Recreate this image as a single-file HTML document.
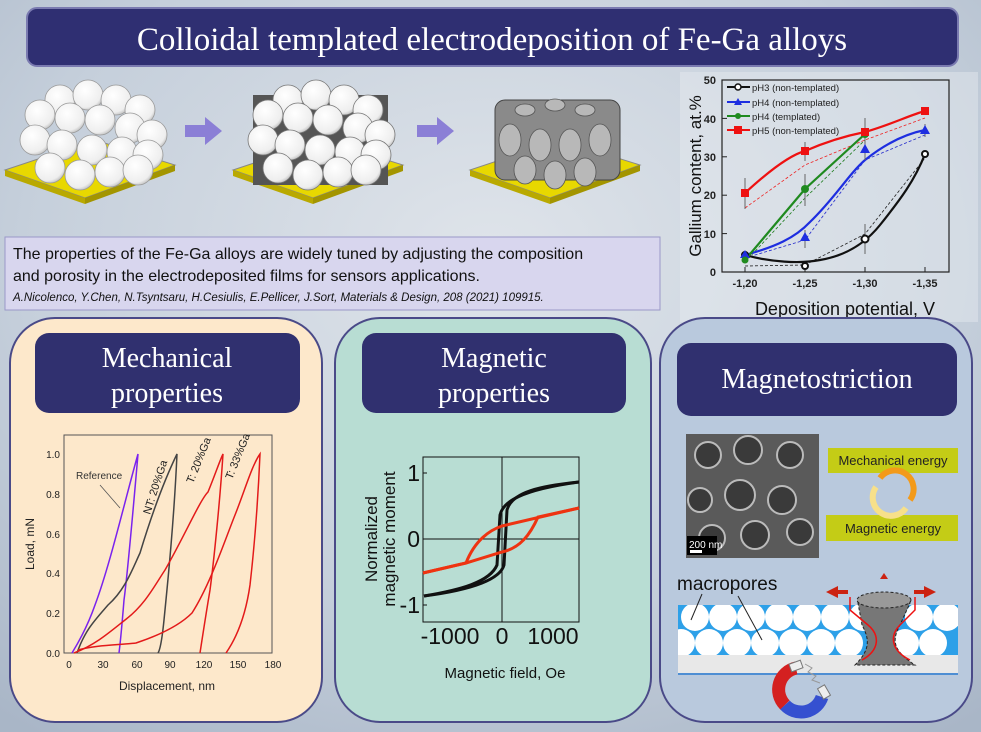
<!DOCTYPE html>
<html><head><meta charset="utf-8"><style>
html,body{margin:0;padding:0;}
body{width:981px;height:732px;overflow:hidden;background:#bfcad8;}
svg{display:block;font-family:"Liberation Sans",sans-serif;}
</style></head><body>
<svg width="981" height="732" viewBox="0 0 981 732" xmlns="http://www.w3.org/2000/svg">
<defs>
<radialGradient id="bg" cx="0.5" cy="0.35" r="0.8">
<stop offset="0" stop-color="#dfe4ea"/><stop offset="0.6" stop-color="#c5cfdb"/><stop offset="1" stop-color="#a9b6c7"/>
</radialGradient>
<radialGradient id="sph" cx="0.4" cy="0.35" r="0.7">
<stop offset="0" stop-color="#ffffff"/><stop offset="0.8" stop-color="#eeeeee"/><stop offset="1" stop-color="#bbbbbb"/>
</radialGradient>
<clipPath id="layer"><rect x="678" y="605" width="280" height="50"/></clipPath>
</defs>
<rect width="981" height="732" fill="url(#bg)"/>

<!-- title -->
<rect x="27" y="8" width="931" height="58" rx="10" fill="#2f2f72" stroke="#7a7ab0" stroke-width="2"/>
<text x="492" y="50" text-anchor="middle" fill="#fff" font-family="Liberation Serif,serif" font-size="33">Colloidal templated electrodeposition of Fe-Ga alloys</text>

<!-- sphere stacks -->
<g>
<polygon points="5,170 95,140 175,165 85,198" fill="#e8d800" stroke="#888" />
<polygon points="5,170 85,198 85,204 5,176" fill="#b9a900"/>
<polygon points="85,198 175,165 175,171 85,204" fill="#a39500"/>
<g fill="url(#sph)" stroke="#999" stroke-width="0.8">
<circle cx="60" cy="100" r="15"/><circle cx="88" cy="95" r="15"/><circle cx="116" cy="100" r="15"/><circle cx="140" cy="110" r="15"/>
<circle cx="40" cy="115" r="15"/><circle cx="70" cy="118" r="15"/><circle cx="100" cy="120" r="15"/><circle cx="130" cy="128" r="15"/><circle cx="152" cy="135" r="15"/>
<circle cx="35" cy="140" r="15"/><circle cx="62" cy="145" r="15"/><circle cx="92" cy="150" r="15"/><circle cx="122" cy="152" r="15"/><circle cx="148" cy="155" r="15"/>
<circle cx="50" cy="168" r="15"/><circle cx="80" cy="175" r="15"/><circle cx="110" cy="172" r="15"/><circle cx="138" cy="170" r="15"/>
</g>
</g>
<polygon points="185,125 205,125 205,117 222,131 205,145 205,137 185,137" fill="#8b7fd6"/>
<g transform="translate(228,0)">
<polygon points="5,170 95,140 175,165 85,198" fill="#e8d800" stroke="#888"/>
<polygon points="5,170 85,198 85,204 5,176" fill="#b9a900"/>
<polygon points="85,198 175,165 175,171 85,204" fill="#a39500"/>
<rect x="25" y="95" width="135" height="90" fill="#555" />
<g fill="url(#sph)" stroke="#777" stroke-width="0.8">
<circle cx="60" cy="100" r="15"/><circle cx="88" cy="95" r="15"/><circle cx="116" cy="100" r="15"/><circle cx="140" cy="110" r="15"/>
<circle cx="40" cy="115" r="15"/><circle cx="70" cy="118" r="15"/><circle cx="100" cy="120" r="15"/><circle cx="130" cy="128" r="15"/><circle cx="152" cy="135" r="15"/>
<circle cx="35" cy="140" r="15"/><circle cx="62" cy="145" r="15"/><circle cx="92" cy="150" r="15"/><circle cx="122" cy="152" r="15"/><circle cx="148" cy="155" r="15"/>
<circle cx="50" cy="168" r="15"/><circle cx="80" cy="175" r="15"/><circle cx="110" cy="172" r="15"/><circle cx="138" cy="170" r="15"/>
</g>
</g>
<polygon points="417,125 437,125 437,117 454,131 437,145 437,137 417,137" fill="#8b7fd6"/>
<g transform="translate(465,0)">
<polygon points="5,170 95,140 175,165 85,198" fill="#e8d800" stroke="#888"/>
<polygon points="5,170 85,198 85,204 5,176" fill="#b9a900"/>
<polygon points="85,198 175,165 175,171 85,204" fill="#a39500"/>
<g fill="#8a8a8a" stroke="#444" stroke-width="1">
<rect x="30" y="100" width="125" height="80" rx="10"/>
</g>
<g fill="#b8b8b8" stroke="#555" stroke-width="0.8">
<ellipse cx="60" cy="110" rx="10" ry="6"/><ellipse cx="90" cy="105" rx="10" ry="6"/><ellipse cx="120" cy="110" rx="10" ry="6"/>
<ellipse cx="45" cy="140" rx="11" ry="16"/><ellipse cx="75" cy="145" rx="11" ry="16"/><ellipse cx="105" cy="145" rx="11" ry="16"/><ellipse cx="135" cy="140" rx="11" ry="16"/>
<ellipse cx="60" cy="170" rx="11" ry="14"/><ellipse cx="90" cy="175" rx="11" ry="14"/><ellipse cx="120" cy="172" rx="11" ry="14"/>
</g>
</g>

<!-- Top right chart -->
<rect x="680" y="72" width="298" height="250" fill="#e6eaf0" opacity="0.45"/>
<rect x="722" y="80" width="227" height="192" fill="none" stroke="#222" stroke-width="1.2"/>
<g font-size="11" font-weight="bold" fill="#222" text-anchor="end">
<text x="716" y="276">0</text><text x="716" y="238">10</text><text x="716" y="199">20</text><text x="716" y="161">30</text><text x="716" y="123">40</text><text x="716" y="84">50</text>
</g>
<g stroke="#222"><line x1="722" y1="233.6" x2="727" y2="233.6"/><line x1="722" y1="195.2" x2="727" y2="195.2"/><line x1="722" y1="156.8" x2="727" y2="156.8"/><line x1="722" y1="118.4" x2="727" y2="118.4"/>
<line x1="745" y1="272" x2="745" y2="267"/><line x1="805" y1="272" x2="805" y2="267"/><line x1="865" y1="272" x2="865" y2="267"/><line x1="925" y1="272" x2="925" y2="267"/></g>
<g font-size="11" font-weight="bold" fill="#222" text-anchor="middle">
<text x="745" y="287">-1,20</text><text x="805" y="287">-1,25</text><text x="865" y="287">-1,30</text><text x="925" y="287">-1,35</text>
</g>
<text x="845" y="315" text-anchor="middle" font-size="18" fill="#111">Deposition potential, V</text>
<text transform="translate(701,176) rotate(-90)" text-anchor="middle" font-size="17" fill="#111">Gallium content, at.%</text>
<g fill="none" stroke-width="0.8" stroke-dasharray="3,2">
<path d="M745,266 L805,265 L865,234 L925,158" stroke="#222"/>
<path d="M745,258 L805,240 L865,160 L925,135" stroke="#2228cc"/>
<path d="M745,262 L805,198 L865,140" stroke="#1a7a1a"/>
<path d="M745,208 L805,165 L865,140 L925,118" stroke="#e22"/>
</g>
<g fill="none" stroke-width="2.2">
<path d="M745,255 C770,262 800,264 820,260 C850,255 868,240 880,225 C900,200 915,180 925,154" stroke="#111"/>
<path d="M745,255 C775,247 795,238 810,222 C835,198 848,175 865,160 C890,140 910,133 925,130" stroke="#1e2ee0"/>
<path d="M745,260 L805,189 L865,134" stroke="#1f8a1f"/>
<path d="M745,193 C770,170 790,155 805,151 C830,140 850,135 865,132 C890,125 910,115 925,111" stroke="#ee1111"/>
</g>
<g stroke-width="1">
<path d="M805,174 V206 M865,118 V150 M745,178 V209 M805,142 V161 M925,124 V137 M805,230 V248 M865,224 V254 M865,140 V160" stroke="#666"/>
</g>
<circle cx="745" cy="255" r="3" fill="#fff" stroke="#111" stroke-width="2"/><circle cx="805" cy="266" r="3" fill="#fff" stroke="#111" stroke-width="2"/><circle cx="865" cy="239" r="3.5" fill="#fff" stroke="#111" stroke-width="2"/><circle cx="925" cy="154" r="3" fill="#fff" stroke="#111" stroke-width="2"/>
<g fill="#1e2ee0"><polygon points="745,250 750,258 740,258"/><polygon points="805,232 810,241 800,241"/><polygon points="865,144 870,153 860,153"/><polygon points="925,125 930,134 920,134"/></g>
<g fill="#1f8a1f"><circle cx="745" cy="260" r="3.5"/><circle cx="805" cy="189" r="4"/><circle cx="865" cy="134" r="4"/></g>
<g fill="#ee1111"><rect x="741" y="189" width="8" height="8"/><rect x="801" y="147" width="8" height="8"/><rect x="861" y="128" width="8" height="8"/><rect x="921" y="107" width="8" height="8"/></g>
<g font-size="9.5" fill="#222">
<line x1="727" y1="87" x2="750" y2="87" stroke="#111" stroke-width="2"/><circle cx="738" cy="87" r="3" fill="#fff" stroke="#111" stroke-width="1.5"/><text x="752" y="91">pH3 (non-templated)</text>
<line x1="727" y1="102" x2="750" y2="102" stroke="#1e2ee0" stroke-width="2"/><polygon points="738,98 742,105 734,105" fill="#1e2ee0"/><text x="752" y="106">pH4 (non-templated)</text>
<line x1="727" y1="116" x2="750" y2="116" stroke="#1f8a1f" stroke-width="2"/><circle cx="738" cy="116" r="3" fill="#1f8a1f"/><text x="752" y="120">pH4 (templated)</text>
<line x1="727" y1="130" x2="750" y2="130" stroke="#ee1111" stroke-width="2"/><rect x="734" y="126" width="8" height="8" fill="#ee1111"/><text x="752" y="134">pH5 (non-templated)</text>
</g>

<!-- text box -->
<rect x="5" y="237" width="655" height="73" fill="#d8d6ee" stroke="#9a98c8"/>
<text x="13" y="259" font-size="16" fill="#111">The properties of the Fe-Ga alloys are widely tuned by adjusting the composition</text>
<text x="13" y="281" font-size="16" fill="#111">and porosity in the electrodeposited films for sensors applications.</text>
<text x="13" y="301" font-size="11.5" font-style="italic" fill="#111">A.Nicolenco, Y.Chen, N.Tsyntsaru, H.Cesiulis, E.Pellicer, J.Sort,  Materials &amp; Design, 208 (2021) 109915.</text>

<!-- panels -->
<rect x="10" y="318" width="312" height="404" rx="45" fill="#fde8cb" stroke="#4a4a88" stroke-width="2"/>
<rect x="335" y="318" width="316" height="404" rx="45" fill="#b8ddd3" stroke="#4a4a88" stroke-width="2"/>
<rect x="660" y="318" width="312" height="404" rx="45" fill="#b9c9dd" stroke="#4a4a88" stroke-width="2"/>
<rect x="35" y="333" width="265" height="80" rx="14" fill="#30306f"/>
<text x="167" y="367" text-anchor="middle" fill="#fff" font-family="Liberation Serif,serif" font-size="28">Mechanical</text>
<text x="167" y="402" text-anchor="middle" fill="#fff" font-family="Liberation Serif,serif" font-size="28">properties</text>
<rect x="362" y="333" width="264" height="80" rx="14" fill="#30306f"/>
<text x="494" y="367" text-anchor="middle" fill="#fff" font-family="Liberation Serif,serif" font-size="28">Magnetic</text>
<text x="494" y="402" text-anchor="middle" fill="#fff" font-family="Liberation Serif,serif" font-size="28">properties</text>
<rect x="677" y="343" width="280" height="73" rx="14" fill="#30306f"/>
<text x="817" y="388" text-anchor="middle" fill="#fff" font-family="Liberation Serif,serif" font-size="28">Magnetostriction</text>

<!-- mechanical chart -->
<rect x="64" y="435" width="208" height="218" fill="none" stroke="#555" stroke-width="1"/>
<g font-size="10" fill="#222" text-anchor="end">
<text x="60" y="657">0.0</text><text x="60" y="617">0.2</text><text x="60" y="577">0.4</text><text x="60" y="538">0.6</text><text x="60" y="498">0.8</text><text x="60" y="458">1.0</text>
</g>
<g font-size="10" fill="#222" text-anchor="middle">
<text x="69" y="668">0</text><text x="103" y="668">30</text><text x="137" y="668">60</text><text x="170" y="668">90</text><text x="204" y="668">120</text><text x="238" y="668">150</text><text x="273" y="668">180</text>
</g>
<text x="167" y="690" text-anchor="middle" font-size="12" fill="#222">Displacement, nm</text>
<text transform="translate(34,544) rotate(-90)" text-anchor="middle" font-size="12" fill="#222">Load, mN</text>
<g fill="none" stroke-width="1.5">
<path d="M72,653 C80,640 88,625 95,605 C110,565 125,500 138,454 C134,500 128,570 124,600 C122,625 120,645 119,653" stroke="#7a22ee"/>
<path d="M77,653 C85,630 95,620 108,605 C125,590 132,570 140,553 C150,520 162,485 177,454 C174,520 168,580 164,620 C162,640 160,650 158,653" stroke="#444"/>
<path d="M74,653 C95,645 110,632 125,620 C145,605 155,585 165,570 C185,535 200,500 208,492 C215,475 220,460 223,454 C220,500 214,560 210,590 C205,620 202,640 200,653" stroke="#e31a1a"/>
<path d="M78,650 C95,645 120,645 136,643 C160,635 180,625 192,613 C210,585 225,540 235,515 C245,490 252,465 260,454 C258,500 254,550 250,585 C245,620 235,640 226,653" stroke="#e31a1a"/>
</g>
<text x="76" y="479" font-size="10" fill="#333">Reference</text>
<line x1="100" y1="485" x2="120" y2="508" stroke="#555" stroke-width="0.8"/>
<text transform="translate(150,515) rotate(-72)" font-size="11" fill="#222">NT: 20%Ga</text>
<text transform="translate(193,484) rotate(-68)" font-size="11" fill="#222">T: 20%Ga</text>
<text transform="translate(232,480) rotate(-68)" font-size="11" fill="#222">T: 33%Ga</text>

<!-- magnetic chart -->
<rect x="423" y="457" width="156" height="165" fill="none" stroke="#111" stroke-width="1"/>
<line x1="502" y1="457" x2="502" y2="622" stroke="#111"/>
<line x1="423" y1="539" x2="579" y2="539" stroke="#111"/>
<g stroke="#111"><line x1="423" y1="473" x2="427" y2="473"/><line x1="423" y1="605" x2="427" y2="605"/></g>
<g font-size="23" fill="#111" text-anchor="end">
<text x="420" y="481">1</text><text x="420" y="547">0</text><text x="420" y="613">-1</text>
</g>
<g font-size="23" fill="#111" text-anchor="middle">
<text x="450" y="644">-1000</text><text x="502" y="644">0</text><text x="553" y="644">1000</text>
</g>
<text transform="translate(377,539) rotate(-90)" text-anchor="middle" font-size="17" fill="#111">Normalized</text>
<text transform="translate(395,539) rotate(-90)" text-anchor="middle" font-size="17" fill="#111">magnetic moment</text>
<text x="505" y="678" text-anchor="middle" font-size="15" fill="#111">Magnetic field, Oe</text>
<g fill="none" stroke-width="3">
<path d="M424,596 C460,590 490,582 497,565 L500,515 C503,502 520,490 579,482" stroke="#111"/>
<path d="M579,482 C540,486 512,492 507,510 L504,565 C500,580 470,590 424,596" stroke="#111"/>
<path d="M423,573 L466,563 C475,540 490,530 502,526 L579,508" stroke="#e31"/>
<path d="M423,573 L466,563 L502,552 C520,548 530,535 538,517 L579,508" stroke="#e31"/>
</g>

<!-- magnetostriction -->
<rect x="686" y="434" width="133" height="124" fill="#5a5a5a"/>
<g fill="#3a3a3a" stroke="#bbb" stroke-width="2">
<circle cx="708" cy="455" r="13"/><circle cx="748" cy="450" r="14"/><circle cx="790" cy="455" r="13"/>
<circle cx="700" cy="500" r="12"/><circle cx="740" cy="495" r="15"/><circle cx="782" cy="500" r="14"/>
<circle cx="712" cy="538" r="13"/><circle cx="755" cy="535" r="14"/><circle cx="800" cy="532" r="13"/>
</g>
<rect x="687" y="536" width="30" height="19" fill="#000"/>
<text x="689" y="548" font-size="10" fill="#fff">200 nm</text>
<rect x="690" y="550" width="12" height="3" fill="#fff"/>
<rect x="828" y="448" width="130" height="25" fill="#c4cc16"/>
<text x="893" y="465" text-anchor="middle" font-size="13" fill="#222">Mechanical energy</text>
<rect x="826" y="515" width="132" height="26" fill="#c4cc16"/>
<text x="893" y="533" text-anchor="middle" font-size="13" fill="#222">Magnetic energy</text>
<path d="M880,478 A18,18 0 0 1 910,500" fill="none" stroke="#f39a1a" stroke-width="6"/>
<path d="M906,508 A18,18 0 0 1 876,487" fill="none" stroke="#f7e08a" stroke-width="6"/>
<text x="677" y="590" font-size="19" fill="#111">macropores</text>
<rect x="678" y="605" width="280" height="50" fill="#2da0e8"/>
<g fill="#fff" clip-path="url(#layer)">
<circle cx="695" cy="617" r="14"/><circle cx="723" cy="617" r="14"/><circle cx="751" cy="617" r="14"/><circle cx="779" cy="617" r="14"/><circle cx="807" cy="617" r="14"/><circle cx="835" cy="617" r="14"/><circle cx="863" cy="617" r="14"/><circle cx="919" cy="617" r="14"/><circle cx="947" cy="617" r="14"/>
<circle cx="681" cy="643" r="14"/><circle cx="709" cy="643" r="14"/><circle cx="737" cy="643" r="14"/><circle cx="765" cy="643" r="14"/><circle cx="793" cy="643" r="14"/><circle cx="821" cy="643" r="14"/><circle cx="849" cy="643" r="14"/><circle cx="905" cy="643" r="14"/><circle cx="933" cy="643" r="14"/>
</g>
<rect x="678" y="655" width="280" height="18" fill="#e8e8e8"/>
<line x1="678" y1="674" x2="958" y2="674" stroke="#2a7ad0" stroke-width="1.5"/>
<line x1="702" y1="594" x2="691" y2="620" stroke="#222"/><line x1="738" y1="596" x2="762" y2="640" stroke="#222"/>
<path d="M858,603 L910,603 L900,625 C892,640 892,650 915,665 L855,665 C870,650 870,640 862,625 Z" fill="#777" stroke="#222" stroke-dasharray="3,2"/>
<ellipse cx="884" cy="600" rx="27" ry="8" fill="#999" stroke="#222" stroke-dasharray="3,2"/>
<path d="M850,597 V610 L868,625 C880,635 880,650 862,660" fill="none" stroke="#e11" stroke-width="1.5"/>
<path d="M915,597 V610 L900,625 C890,635 890,650 910,660" fill="none" stroke="#e11" stroke-width="1.5"/>
<g fill="#c21">
<polygon points="826,592 838,586 838,598"/><rect x="838" y="590" width="10" height="4"/>
<polygon points="936,592 924,586 924,598"/><rect x="914" y="590" width="10" height="4"/>
<polygon points="880,579 884,573 888,579"/>
</g>
<!-- magnet -->
<path d="M796,668 A22,22 0 0 0 785,705" fill="none" stroke="#d42020" stroke-width="13"/>
<path d="M785,705 A22,22 0 0 0 822,697" fill="none" stroke="#3550d0" stroke-width="13"/>
<rect x="790" y="662" width="12" height="8" fill="#eee" stroke="#777" transform="rotate(-20 796 666)"/>
<rect x="818" y="688" width="12" height="8" fill="#eee" stroke="#777" transform="rotate(60 824 692)"/>
<path d="M805,664 L812,668 L808,672 L816,676 L812,680 L820,683" fill="none" stroke="#999" stroke-width="1"/>
</svg>
</body></html>
